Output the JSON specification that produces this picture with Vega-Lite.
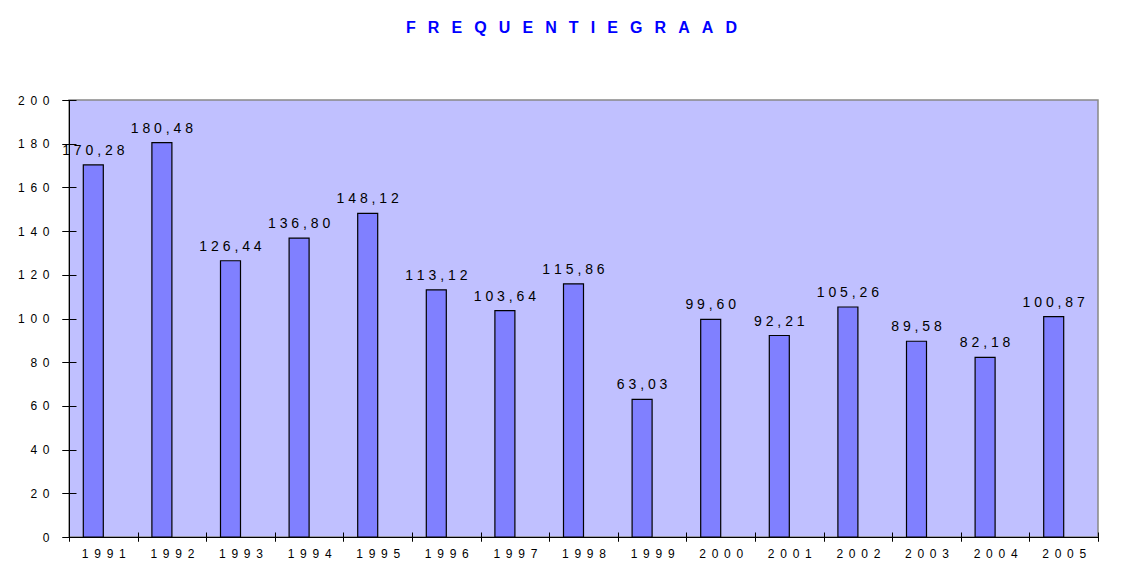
{
  "$schema": "https://vega.github.io/schema/vega-lite/v6.json",
  "width": 1029,
  "height": 437,
  "autosize": {"type": "none"},
  "padding": {"left": 69, "top": 100, "right": 36, "bottom": 27},
  "background": "white",
  "title": {
    "text": "F\u00a0\u00a0\u2009R\u00a0\u00a0\u2009E\u00a0\u00a0\u2009Q\u00a0\u00a0\u2009U\u00a0\u00a0\u2009E\u00a0\u00a0\u2009N\u00a0\u00a0\u2009T\u00a0\u00a0\u2009I\u00a0\u00a0\u2009E\u00a0\u00a0\u2009G\u00a0\u00a0\u2009R\u00a0\u00a0\u2009A\u00a0\u00a0\u2009A\u00a0\u00a0\u2009D",
    "color": "#0000FF",
    "font": "Liberation Sans",
    "fontSize": 16,
    "fontWeight": "bold",
    "anchor": "middle",
    "frame": "group",
    "offset": 58,
    "dx": -12
  },
  "data": {
    "values": [
      {"year": "1991", "value": 170.28},
      {"year": "1992", "value": 180.48},
      {"year": "1993", "value": 126.44},
      {"year": "1994", "value": 136.80},
      {"year": "1995", "value": 148.12},
      {"year": "1996", "value": 113.12},
      {"year": "1997", "value": 103.64},
      {"year": "1998", "value": 115.86},
      {"year": "1999", "value": 63.03},
      {"year": "2000", "value": 99.60},
      {"year": "2001", "value": 92.21},
      {"year": "2002", "value": 105.26},
      {"year": "2003", "value": 89.58},
      {"year": "2004", "value": 82.18},
      {"year": "2005", "value": 100.87}
    ]
  },
  "layer": [
    {
      "mark": {"type": "bar", "width": 20, "xOffset": -10, "fill": "#8080FF", "stroke": "#000000", "strokeWidth": 1.2},
      "encoding": {
        "x": {
          "field": "year", "type": "ordinal",
          "scale": {"paddingInner": 0, "paddingOuter": 0},
          "axis": {
            "orient": "bottom", "title": null, "tickBand": "extent", "tickSize": 4,
            "domainColor": "#000000", "tickColor": "#000000", "domainWidth": 1, "tickWidth": 1,
            "labelFont": "Liberation Sans", "labelFontSize": 12, "labelColor": "#000000",
            "labelAngle": 0, "labelPadding": 7, "grid": false,
            "labelExpr": "join(split(datum.label, ''), '\u00a0\u2009')"
          }
        },
        "y": {
          "field": "value", "type": "quantitative",
          "scale": {"domain": [0, 200], "nice": false},
          "axis": {
            "orient": "left", "title": null, "values": [0, 20, 40, 60, 80, 100, 120, 140, 160, 180, 200],
            "tickSize": 7, "labelPadding": 13, "grid": false,
            "domainColor": "#000000", "tickColor": "#000000", "domainWidth": 1, "tickWidth": 1,
            "labelFont": "Liberation Sans", "labelFontSize": 12, "labelColor": "#000000",
            "labelExpr": "join(split(datum.label, ''), '\u00a0\u2009')"
          }
        }
      }
    },
    {
      "transform": [
        {"calculate": "join(split(replace(format(datum.value, '.2f'), '.', ','), ''), ' ')", "as": "label"}
      ],
      "mark": {"type": "text", "xOffset": -10, "dy": -10, "baseline": "alphabetic", "align": "center",
               "font": "Liberation Sans", "fontSize": 14, "color": "#000000"},
      "encoding": {
        "x": {
          "field": "year", "type": "ordinal",
          "axis": {"orient": "bottom", "title": null, "labels": false, "domain": false, "grid": false,
                   "tickBand": "extent", "tickSize": 9, "offset": -5, "tickColor": "#000000", "tickWidth": 1}
        },
        "y": {
          "field": "value", "type": "quantitative",
          "axis": {"orient": "left", "title": null, "labels": false, "domain": false, "grid": false,
                   "values": [0, 20, 40, 60, 80, 100, 120, 140, 160, 180, 200],
                   "tickSize": 14, "offset": -7, "tickColor": "#000000", "tickWidth": 1}
        },
        "text": {"field": "label"}
      }
    }
  ],
  "resolve": {"axis": {"x": "independent", "y": "independent"}},
  "config": {
    "view": {"fill": "#C0C0FF", "stroke": "#888888", "strokeWidth": 1.5}
  }
}
